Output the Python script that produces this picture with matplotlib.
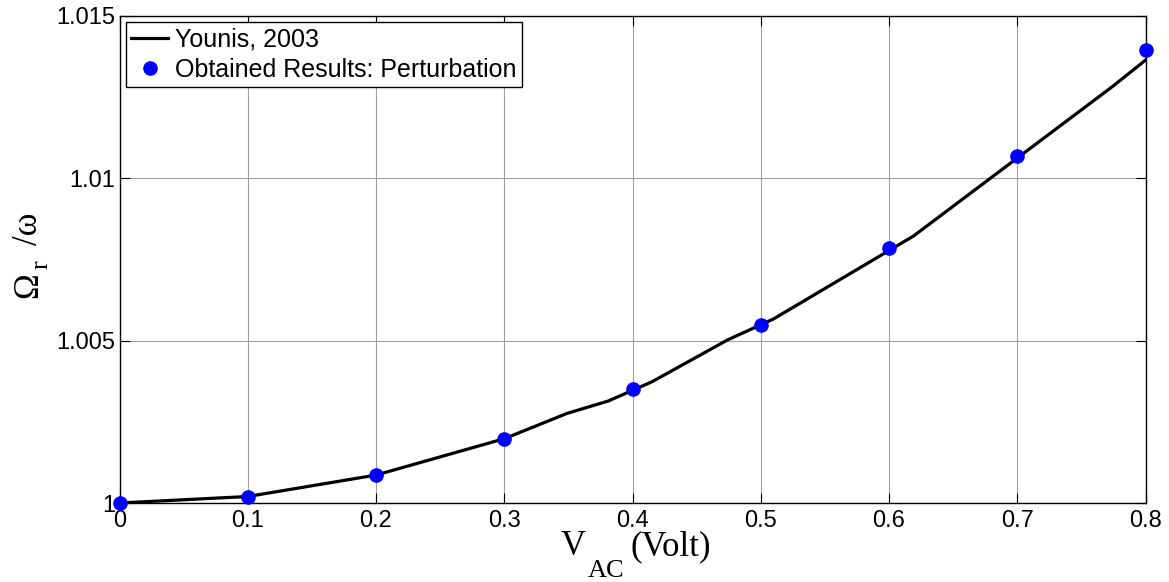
import matplotlib
matplotlib.use("Agg")
import matplotlib.pyplot as plt

# Younis (2003) reference curve
younis_v = [0, 0.1, 0.2, 0.3, 0.349, 0.381, 0.415, 0.474, 0.51, 0.619, 0.774, 0.8]
younis_ratio = [1.0, 1.0002, 1.00086, 1.00198, 1.00276, 1.00314, 1.00373,
                1.00502, 1.00567, 1.00822, 1.01282, 1.01364]

# Perturbation results
pert_v = [0, 0.1, 0.2, 0.3, 0.4, 0.5, 0.6, 0.7, 0.8]
pert_ratio = [1.0, 1.0002, 1.00086, 1.00198, 1.0035, 1.00548, 1.00786, 1.0107, 1.01396]

xticks = [0, 0.1, 0.2, 0.3, 0.4, 0.5, 0.6, 0.7, 0.8]
xticklabels = ["0", "0.1", "0.2", "0.3", "0.4", "0.5", "0.6", "0.7", "0.8"]
yticks = [1.0, 1.005, 1.01, 1.015]
yticklabels = ["1", "1.005", "1.01", "1.015"]

W, H = 1169, 582
fig = plt.figure(figsize=(W / 100, H / 100), dpi=100)
ax = fig.add_axes([119.5 / W, 1 - 503 / H, 1026 / W, 487 / H])

ax.plot(younis_v, younis_ratio, color="black", lw=2.3, label="Younis, 2003", zorder=3)
ax.plot(pert_v, pert_ratio, linestyle="none", marker="o", markersize=9.5,
        color="#0000ff", label="Obtained Results: Perturbation", zorder=4, clip_on=False)

ax.set_xlim(0, 0.8)
ax.set_ylim(1.0, 1.015)
ax.set_xticks(xticks)
ax.set_xticklabels(xticklabels)
ax.set_yticks(yticks)
ax.set_yticklabels(yticklabels)

for lbl in ax.get_xticklabels() + ax.get_yticklabels():
    lbl.set_fontfamily("Liberation Sans")
    lbl.set_fontsize(17)

ax.tick_params(direction="in", length=7, width=0.8, top=True, right=True, colors="black")
ax.tick_params(axis="x", pad=5)
ax.tick_params(axis="y", pad=3)
ax.grid(True, color="#a0a0a0", lw=0.8)
ax.set_axisbelow(True)
for s in ax.spines.values():
    s.set_linewidth(1.0)
    s.set_color("black")

leg = ax.legend(loc="upper left", bbox_to_anchor=(0.0063, 0.9877), frameon=True,
                fancybox=False, edgecolor="black", framealpha=1,
                prop=dict(family="Liberation Sans", size=18),
                handlelength=1.45, handletextpad=0.3, borderpad=0.22,
                labelspacing=0.25, borderaxespad=0, numpoints=1)
leg.get_frame().set_linewidth(1.0)


def put(text, x_px, y_px, size, rotation=0):
    fig.text(x_px / W, 1 - y_px / H, text, fontsize=size, family="Liberation Serif",
             ha="left", va="baseline", rotation=rotation, rotation_mode="anchor")


# x-axis label: V_AC (Volt)
put("V", 561, 555, 25)
put("AC", 588, 577, 19)
put("(Volt)", 630, 555, 25)

# y-axis label: Omega_r / omega
put("\u03a9", 37, 298, 25, rotation=90)
put("r", 48, 269, 19, rotation=90)
put("/\u03c9", 37, 245, 25, rotation=90)

fig.savefig("out.png", dpi=100)
